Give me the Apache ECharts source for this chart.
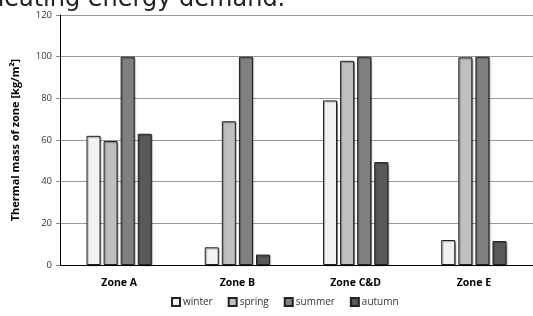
<!DOCTYPE html>
<html>
<head>
<meta charset="utf-8">
<script src="https://cdn.jsdelivr.net/npm/echarts@6/dist/echarts.min.js"></script>
<style>
  html, body { margin: 0; padding: 0; background: #fff; }
  #chart { width: 533px; height: 316px; }
</style>
</head>
<body>
<div id="chart"></div>
<script>
// zones along the x axis
const zones = ['Zone A', 'Zone B', 'Zone C&D', 'Zone E'];
// thermal mass per season [kg/m2]
const winter = [62, 8.5, 79, 12];
const spring = [59.5, 69, 98, 99.7];
const summer = [100, 100, 100, 100];
const autumn = [63, 5, 49.4, 11.5];
const seasonNames = ['winter', 'spring', 'summer', 'autumn'];
const seasonColors = ['#f2f2f2', '#bfbfbf', '#808080', '#595959'];

const chart = echarts.init(document.getElementById('chart'));
const font = '"Open Sans", "Noto Sans", sans-serif';

const seriesData = [winter, spring, summer, autumn];

chart.setOption({
  backgroundColor: '#fff',
  animation: false,
  textStyle: { fontFamily: font },
  graphic: [{
    type: 'text',
    left: -11,
    top: -12,
    style: {
      text: 'heating energy demand.',
      font: '24px "DejaVu Sans", sans-serif',
      fill: '#222'
    }
  }],
  grid: { left: 60, right: 0, top: 15, bottom: 51 },
  legend: {
    left: 166,
    top: 292,
    itemWidth: 8,
    itemHeight: 8,
    itemGap: 15,
    icon: 'rect',
    textStyle: { fontSize: 10, color: '#333', fontFamily: font, padding: [0, 0, 0, -2] },
    data: seasonNames
  },
  xAxis: {
    type: 'category',
    data: zones,
    axisLine: { lineStyle: { color: '#000', width: 1 } },
    axisTick: { show: false },
    axisLabel: { fontSize: 10.5, fontWeight: 'bold', color: '#000', margin: 13, fontFamily: font }
  },
  yAxis: {
    type: 'value',
    min: 0,
    max: 120,
    interval: 20,
    name: 'Thermal mass of zone [kg/m²]',
    nameLocation: 'middle',
    nameGap: 39,
    nameTextStyle: { fontSize: 11, fontWeight: 'bold', color: '#000', fontFamily: font },
    axisLine: { show: true, lineStyle: { color: '#000', width: 1 } },
    axisTick: { show: true, length: 4, lineStyle: { color: '#888' } },
    axisLabel: { fontSize: 9.5, color: '#333', margin: 8, fontFamily: font },
    splitLine: { lineStyle: { color: '#999', width: 1 } }
  },
  series: seasonNames.map((name, i) => ({
    name: name,
    type: 'bar',
    data: seriesData[i],
    barWidth: 14,
    barGap: '22%',
    itemStyle: {
      color: seasonColors[i],
      borderColor: '#222',
      borderWidth: 1,
      shadowColor: 'rgba(0,0,0,0.35)',
      shadowOffsetX: 1,
      shadowOffsetY: 1,
      shadowBlur: 1
    }
  }))
});
</script>
</body>
</html>
